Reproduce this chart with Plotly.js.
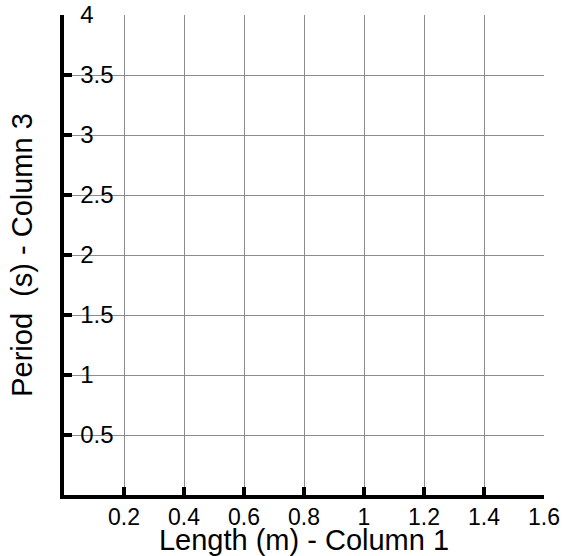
<!DOCTYPE html>
<html>
<head>
<meta charset="utf-8">
<script src="https://cdn.plot.ly/plotly-3.0.1.min.js"></script>
<style>html,body{margin:0;padding:0;background:#fff;}#chart{width:566px;height:556px;}</style>
</head>
<body>
<div id="chart"></div>
<script>
// Empty data grid (no measurements plotted yet)
var lengthValues = [];
var periodValues = [];
var xTickVals = [0.2, 0.4, 0.6, 0.8, 1, 1.2, 1.4, 1.6];
var xTickText = ["0.2", "0.4", "0.6", "0.8", "1", "1.2", "1.4", "1.6"];
var yTickVals = [0.5, 1, 1.5, 2, 2.5, 3, 3.5, 4];
var yTickText = ["0.5", "1", "1.5", "2", "2.5", "3", "3.5", "4"];
var xTitle = "Length (m) - Column 1";
var yTitle = "Period  (s) - Column 3";

var font = "Liberation Sans, Arial, sans-serif";
var data = [{
  x: lengthValues, y: periodValues, type: "scatter", mode: "markers",
  marker: {color: "#000"}, showlegend: false, hoverinfo: "skip"
}];
var layout = {
  width: 566, height: 556,
  margin: {l: 64, r: 22, t: 15, b: 61, pad: 0},
  paper_bgcolor: "#fff", plot_bgcolor: "#fff",
  showlegend: false,
  font: {family: font, color: "#000", size: 24},
  xaxis: {
    range: [0, 1.6], tickvals: xTickVals, ticktext: xTickText,
    showgrid: true, gridcolor: "#8c8c8c", gridwidth: 1,
    zeroline: false, showline: true, linecolor: "#000", linewidth: 4,
    ticks: "inside", ticklen: 8, tickwidth: 4, tickcolor: "#000",
    ticklabelstandoff: -2,
    tickfont: {family: font, size: 23, color: "#000"},
    title: {text: xTitle, font: {family: font, size: 29, color: "#000"}, standoff: 6},
    fixedrange: true
  },
  yaxis: {
    range: [0, 4], tickvals: yTickVals, ticktext: yTickText,
    showgrid: true, gridcolor: "#8c8c8c", gridwidth: 1,
    zeroline: false, showline: true, linecolor: "#000", linewidth: 4,
    ticks: "inside", ticklen: 8, tickwidth: 4, tickcolor: "#000",
    ticklabelposition: "inside", ticklabeloverflow: "allow", ticklabelstandoff: 10,
    tickfont: {family: font, size: 24, color: "#000"},
    title: {text: yTitle, font: {family: font, size: 29, color: "#000"}, standoff: 40},
    fixedrange: true
  }
};
Plotly.newPlot("chart", data, layout, {displayModeBar: false, staticPlot: true});
</script>
</body>
</html>
